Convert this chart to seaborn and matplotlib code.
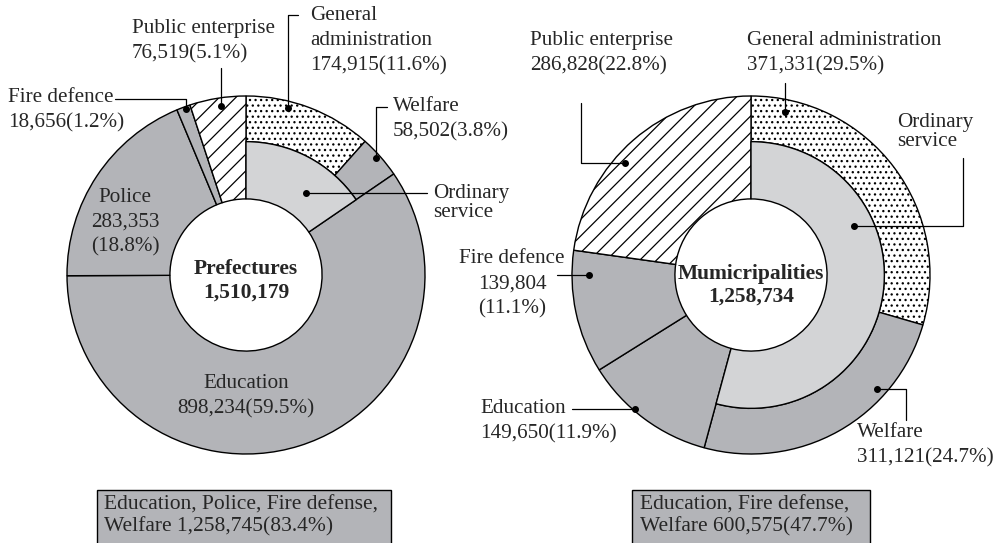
import matplotlib
matplotlib.use("Agg")
import numpy as np
import matplotlib.pyplot as plt
import seaborn as sns
from matplotlib.patches import Rectangle

# ---- data ----
pref_cats = ["General\nadministration", "Welfare", "Education", "Police", "Fire defence", "Public enterprise"]
pref_vals = [174915, 58502, 898234, 283353, 18656, 76519]
pref_pcts = [11.6, 3.8, 59.5, 18.8, 1.2, 5.1]

muni_cats = ["General administration", "Welfare", "Education", "Fire defence", "Public enterprise"]
muni_vals = [371331, 311121, 149650, 139804, 286828]
muni_pcts = [29.5, 24.7, 11.9, 11.1, 22.8]

pref_title = "Prefectures"
muni_title = "Mumicripalities"
pref_box_cats = "Education, Police, Fire defense,\nWelfare"
muni_box_cats = "Education, Fire defense,\nWelfare"

# ---- style ----
sns.set_theme(style="white")
plt.rcParams["font.family"] = ["Liberation Serif", "DejaVu Serif"]
plt.rcParams["hatch.linewidth"] = 0.9

W, H = 997, 543
R = 179
HOLE = 0.425
MID = 0.745
GRAY = "#b3b4b8"
LIGHT = "#d3d4d6"
FS = 15.2
LS = 1.45

fig = plt.figure(figsize=(W / 100, H / 100), dpi=100)
ax = fig.add_axes([0, 0, 1, 1])


def py(y):
    return H - y


def style_for(name):
    if name.startswith("General"):
        return dict(fc="white", hatch="...")
    if name.startswith("Public"):
        return dict(fc="white", hatch="//")
    return dict(fc=GRAY, hatch=None)


def dot_at(wedge, cx, cy, frac, rfrac):
    a = np.deg2rad(wedge.theta2 - frac * (wedge.theta2 - wedge.theta1))
    return cx + rfrac * R * np.cos(a), cy + rfrac * R * np.sin(a)


def leader(dot, kind, start):
    dx, dy = dot
    if kind == "h":
        xs, ys = [start[0], dx], [dy, dy]
    elif kind == "v":
        xs, ys = [dx, dx], [py(start[1]), dy]
    elif kind == "hv":
        xs, ys = [start[0], dx, dx], [py(start[1]), py(start[1]), dy]
    else:  # vh
        xs, ys = [start[0], start[0], dx], [py(start[1]), dy, dy]
    ax.plot(xs, ys, color="black", lw=0.9)
    ax.plot([dx], [dy], "o", color="black", ms=4)


def donut(cx, cy_px, cats, vals, pcts, title, title_dy, labels, box):
    cy = py(cy_px)
    wedges, _ = ax.pie(vals, center=(cx, cy), radius=R, startangle=90, counterclock=False,
                       frame=True, wedgeprops=dict(width=R * (1 - HOLE), edgecolor="black", linewidth=1))
    for w, name in zip(wedges, cats):
        st = style_for(name)
        w.set_facecolor(st["fc"])
        if st["hatch"]:
            w.set_hatch(st["hatch"])
    # ordinary service = general administration + welfare
    for w in wedges[:2]:
        w.set_width(R * (1 - MID))
    inner, _ = ax.pie([sum(vals[:2]), sum(vals[2:])], center=(cx, cy), radius=R * MID,
                      startangle=90, counterclock=False, frame=True,
                      wedgeprops=dict(width=R * (MID - HOLE), edgecolor="black", linewidth=1))
    inner[0].set_facecolor(LIGHT)
    inner[1].set_visible(False)

    for key, tx, ty, ha, ls, dot, kind, start in labels:
        if key == "ordinary":
            txt = "Ordinary\nservice"
            w = inner[0]
        else:
            i, split = key
            sep = "\n" if split else ""
            txt = f"{cats[i]}\n{vals[i]:,}{sep}({pcts[i]}%)"
            w = wedges[i]
        ax.text(tx, py(ty), txt, ha=ha, va="center", fontsize=FS, linespacing=ls)
        if dot is not None:
            leader(dot_at(w, cx, cy, *dot), kind, start)

    ax.text(cx, py(cy_px + title_dy), f"{title}\n{sum(vals):,}", ha="center", va="center",
            fontsize=15.5, fontweight="bold", linespacing=1.2)

    bx0, bx1, btext, bcats = box
    rest = sum(vals[1:-1])
    pct = rest / sum(vals) * 100
    ax.add_patch(Rectangle((bx0, py(545)), bx1 - bx0, 545 - 490, fc=GRAY, ec="black", lw=1, clip_on=False))
    ax.text(btext, py(516), f"{bcats} {rest:,}({pct:.1f}%)", ha="left", va="center",
            fontsize=15.5, linespacing=1.2)


pref_labels = [
    ((0, False), 310, 41, "left", LS, (0.34, 0.96), "hv", (298, 15)),
    ((1, False), 393, 119.5, "left", LS, (0.45, 0.98), "hv", (387, 107)),
    ((2, False), 246, 396, "center", LS, None, None, None),
    ((3, True), 125, 222, "center", 1.38, None, None, None),
    ((4, False), 8, 110, "left", LS, (0.63, 0.985), "hv", (115, 99)),
    ((5, False), 132, 41.5, "left", LS, (0.54, 0.955), "v", (None, 68)),
    ("ordinary", 433, 203, "left", 1.05, (0.65, 0.57), "h", (427, None)),
]
muni_labels = [
    ((0, False), 747, 53.5, "left", LS, (0.11, 0.93), "v", (None, 83)),
    ((1, False), 857, 445.5, "left", LS, (0.29, 0.95), "vh", (906, 420)),
    ((2, False), 480, 421.5, "left", LS, (0.60, 0.99), "h", (572, None)),
    ((3, True), 512, 284, "center", LS, (0.80, 0.905), "h", (557, None)),
    ((4, False), 530, 53.5, "left", LS, (0.41, 0.945), "vh", (581, 103)),
    ("ordinary", 897, 132, "left", 1.05, (0.33, 0.64), "vh", (963, 158)),
]

donut(246, 275, pref_cats, pref_vals, pref_pcts, pref_title, 6, pref_labels, (97, 391, 104, pref_box_cats))
donut(751, 275, muni_cats, muni_vals, muni_pcts, muni_title, 10, muni_labels, (632, 870, 640, muni_box_cats))

ax.set_xlim(0, W)
ax.set_ylim(0, H)
ax.set_aspect("equal")
ax.axis("off")
fig.savefig("out.png", dpi=100, facecolor="white")
